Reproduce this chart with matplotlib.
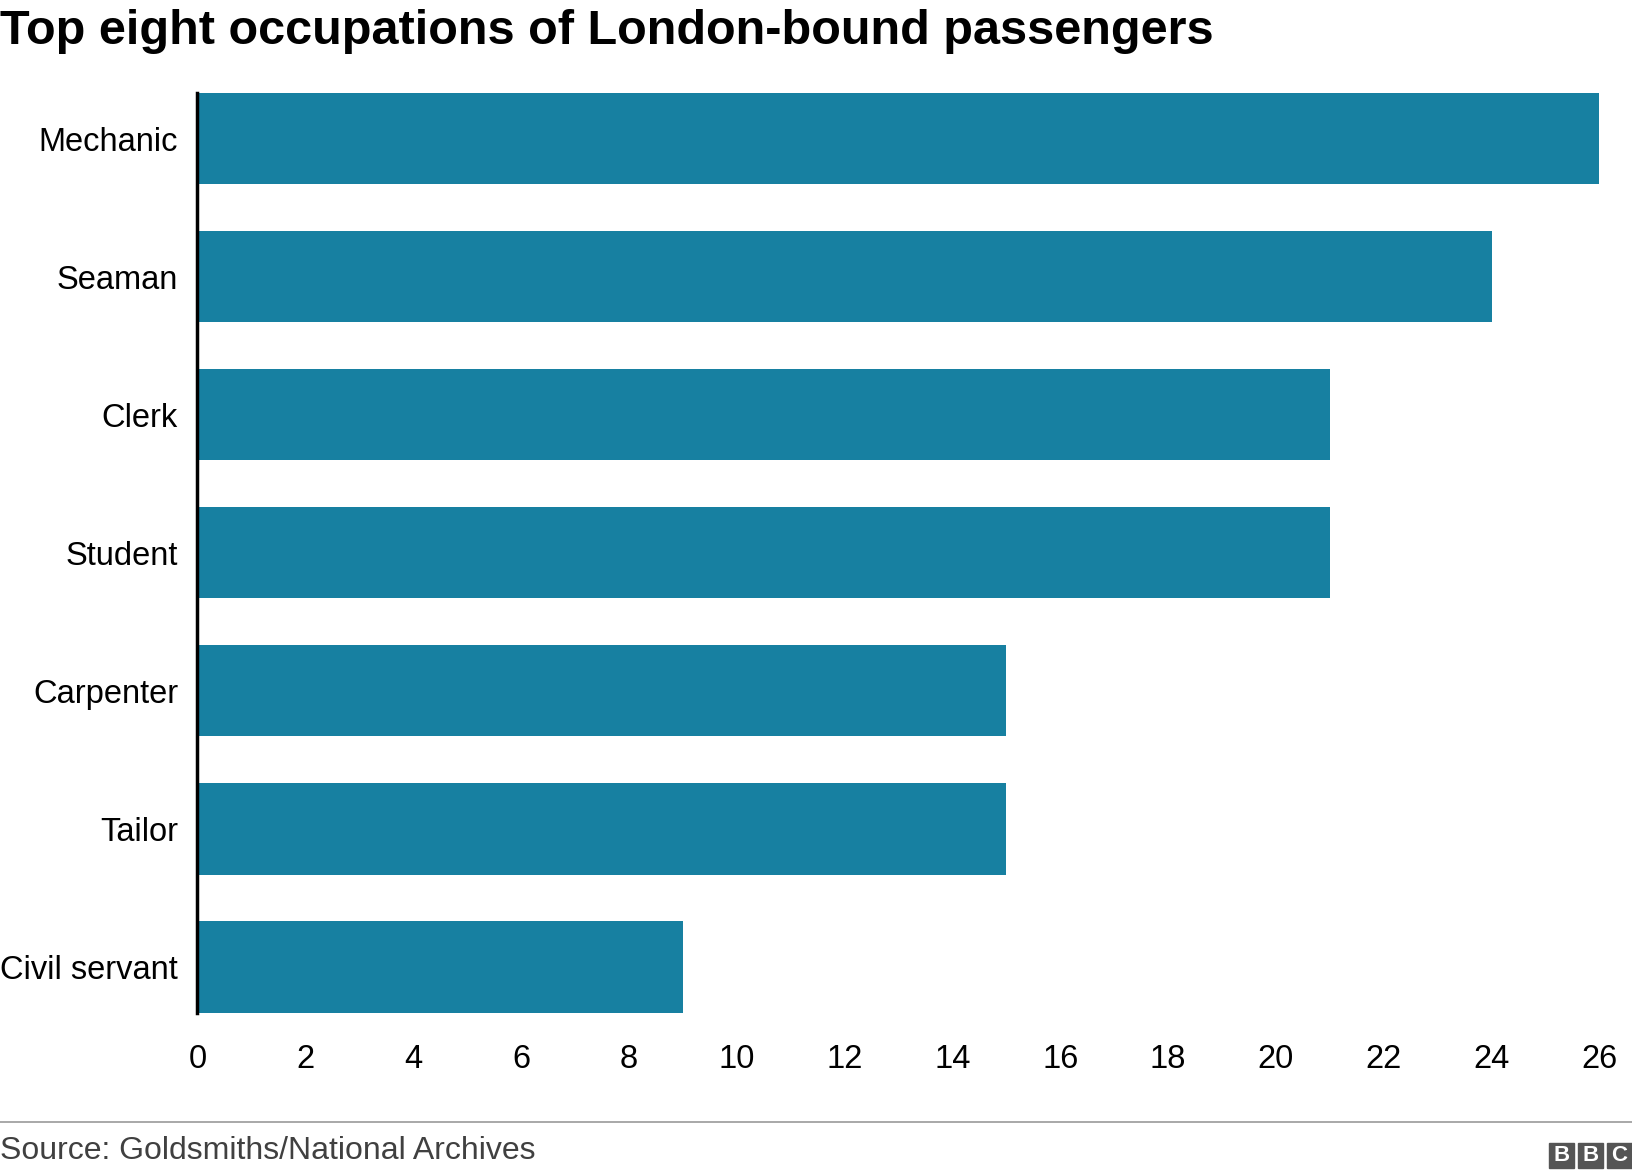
import matplotlib.pyplot as plt
from matplotlib.patches import Rectangle

occupations = ["Mechanic", "Seaman", "Clerk", "Student", "Carpenter", "Tailor", "Civil servant"]
counts = [26, 24, 21, 21, 15, 15, 9]
xticks = list(range(0, 27, 2))

plt.rcParams["font.family"] = ["Liberation Sans", "DejaVu Sans"]
fig = plt.figure(figsize=(16.32, 11.76), dpi=100)
ax = fig.add_axes([0.121, 0.139, 0.859, 0.782])

n = len(occupations)
ax.barh(range(n), counts, height=0.663, color="#1780a1")
ax.set_ylim(n - 1 + 0.3315, -0.3315)
ax.set_xlim(0, 26)
ax.set_yticks(range(n))
ax.set_yticklabels(occupations, fontsize=23.5)
ax.set_xticks(xticks)
ax.set_xticklabels([str(t) for t in xticks], fontsize=23.5)
ax.tick_params(length=0)
ax.tick_params(axis="x", pad=23)
ax.tick_params(axis="y", pad=14)
for s in ["top", "right", "bottom"]:
    ax.spines[s].set_visible(False)
ax.spines["left"].set_linewidth(2.5)
ax.spines["left"].set_color("black")

fig.text(0.0, 0.992, "Top eight occupations of London-bound passengers",
         fontsize=35, fontweight="bold", va="top", ha="left")
fig.add_artist(plt.Line2D([0, 1], [0.046, 0.046], color="#999999", lw=1.2))
fig.text(0.0, 0.021, "Source: Goldsmiths/National Archives", fontsize=23,
         color="#404040", va="center", ha="left")

# BBC logo
bw, bh, gap = 0.0153, 0.021, 0.0025
x0 = 1 - 3 * bw - 2 * gap
for i, ch in enumerate("BBC"):
    x = x0 + i * (bw + gap)
    fig.add_artist(Rectangle((x, 0.007), bw, bh, transform=fig.transFigure,
                             color="#555555"))
    fig.text(x + bw / 2, 0.007 + bh / 2, ch, color="white", fontsize=16,
             fontweight="bold", ha="center", va="center")

fig.savefig("out.png", dpi=100)
